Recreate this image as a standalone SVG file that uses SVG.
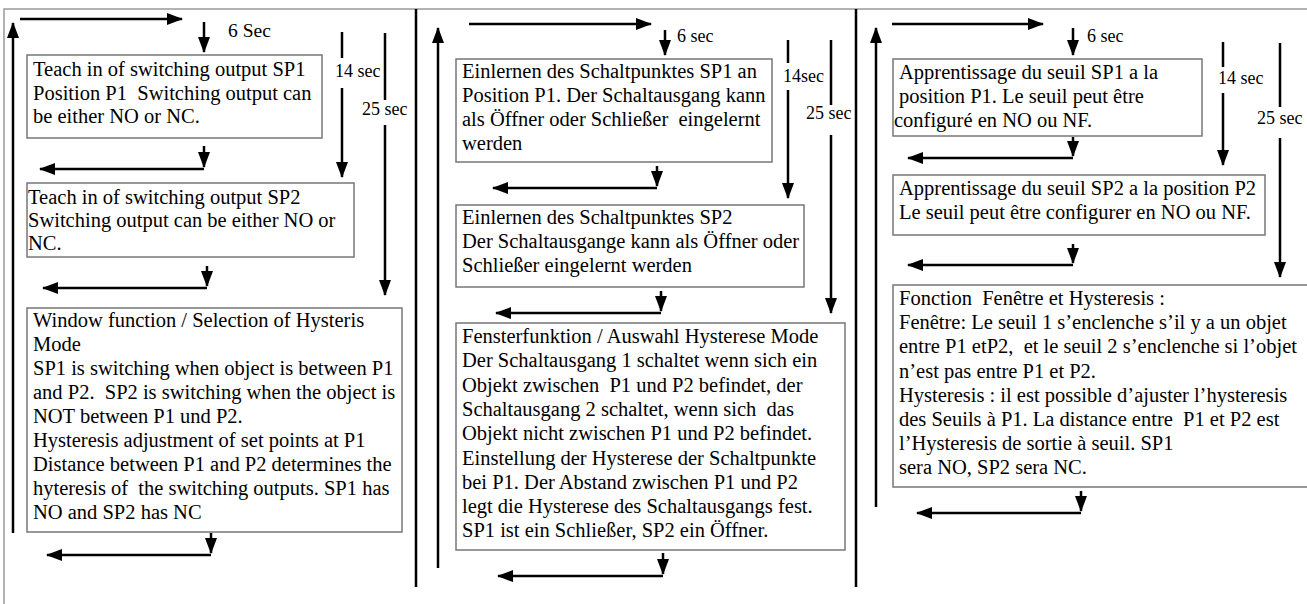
<svg xmlns="http://www.w3.org/2000/svg" width="1307" height="604" viewBox="0 0 1307 604">
<style>
text{font-family:"Liberation Serif","Times New Roman",serif;fill:#000;white-space:pre}
.t{font-size:20.5px}
.lb{font-size:18px}
.box{fill:#fff;stroke:#777;stroke-width:1.5}
.ln{fill:none;stroke:#000;stroke-width:2.5}
.ar{fill:none;stroke:#000;stroke-width:2.5;marker-end:url(#ah)}
.frame{fill:none;stroke:#999;stroke-width:1.5}
</style>
<defs>
<marker id="ah" viewBox="0 0 16 12" markerWidth="16" markerHeight="12" refX="15" refY="6" orient="auto" markerUnits="userSpaceOnUse">
<path d="M0,0 L16,6 L0,12 z" fill="#000"/>
</marker>
</defs>
<rect width="1307" height="604" fill="#fff"/>
<path class="frame" d="M4,604 V9 H1307"/>

<g id="connectors">
<!-- separators -->
<path class="ln" d="M416,9 V587"/>
<path class="ln" d="M856,9 V587"/>
<!-- left column -->
<path class="ar" d="M13,533 V23"/>
<path class="ar" d="M20,19 H182"/>
<path class="ar" d="M204,22 V52"/>
<path class="ln" d="M342,32 V58"/>
<path class="ar" d="M342,88 V177"/>
<path class="ln" d="M385,33 V100"/>
<path class="ar" d="M385,125 V295"/>
<path class="ar" d="M204,146 V167"/>
<path class="ar" d="M204,169 H40"/>
<path class="ar" d="M207,266 V286"/>
<path class="ar" d="M207,288 H43"/>
<path class="ar" d="M211,533 V553"/>
<path class="ar" d="M211,555 H47"/>
<!-- middle column -->
<path class="ar" d="M438,568 V28"/>
<path class="ar" d="M469,24 H651"/>
<path class="ar" d="M665,30 V55"/>
<path class="ln" d="M788,40 V63"/>
<path class="ar" d="M788,90 V198"/>
<path class="ln" d="M831,40 V105"/>
<path class="ar" d="M831,135 V313"/>
<path class="ar" d="M657,166 V186"/>
<path class="ar" d="M657,188 H493"/>
<path class="ar" d="M661,291 V311"/>
<path class="ar" d="M661,313 H496"/>
<path class="ar" d="M663,553 V574"/>
<path class="ar" d="M663,576 H498"/>
<!-- right column -->
<path class="ar" d="M876,507 V28"/>
<path class="ar" d="M892,24 H1043"/>
<path class="ar" d="M1073,28 V55"/>
<path class="ln" d="M1223,42 V67"/>
<path class="ar" d="M1223,93 V165"/>
<path class="ln" d="M1280,43 V107"/>
<path class="ar" d="M1280,138 V277"/>
<path class="ar" d="M1073,137 V156"/>
<path class="ar" d="M1073,158 H908"/>
<path class="ar" d="M1073,244 V263"/>
<path class="ar" d="M1073,265 H908"/>
<path class="ar" d="M1081,491 V511"/>
<path class="ar" d="M1081,513 H917"/>
</g>

<g id="labels">
<text class="t" x="228" y="37" style="font-size:19.5px">6 Sec</text>
<text class="lb" x="335" y="77">14 sec</text>
<text class="lb" x="362" y="115">25 sec</text>
<text class="lb" x="677" y="42">6 sec</text>
<text class="lb" x="783" y="82">14sec</text>
<text class="lb" x="806" y="119">25 sec</text>
<text class="lb" x="1087" y="42">6 sec</text>
<text class="lb" x="1218" y="84">14 sec</text>
<text class="lb" x="1257" y="124">25 sec</text>
</g>

<g id="en-sp1">
<rect class="box" x="27" y="55" width="295" height="83"/>
<text class="t" x="33" y="76">Teach in of switching output SP1</text>
<text class="t" x="33" y="100">Position P1  Switching output can</text>
<text class="t" x="33" y="123">be either NO or NC.</text>
</g>
<g id="en-sp2">
<rect class="box" x="27" y="183" width="327" height="74"/>
<text class="t" x="28" y="204">Teach in of switching output SP2</text>
<text class="t" x="28" y="227">Switching output can be either NO or</text>
<text class="t" x="28" y="250">NC.</text>
</g>
<g id="en-window">
<rect class="box" x="27" y="308" width="375" height="224"/>
<text class="t" x="33" y="327">Window function / Selection of Hysteris</text>
<text class="t" x="33" y="351">Mode</text>
<text class="t" x="33" y="375">SP1 is switching when object is between P1</text>
<text class="t" x="33" y="399">and P2.  SP2 is switching when the object is</text>
<text class="t" x="33" y="423">NOT between P1 und P2.</text>
<text class="t" x="33" y="447">Hysteresis adjustment of set points at P1</text>
<text class="t" x="33" y="471">Distance between P1 and P2 determines the</text>
<text class="t" x="33" y="495">hyteresis of  the switching outputs. SP1 has</text>
<text class="t" x="33" y="519">NO and SP2 has NC</text>
</g>

<g id="de-sp1">
<rect class="box" x="456" y="59" width="316" height="103"/>
<text class="t" x="462" y="78">Einlernen des Schaltpunktes SP1 an</text>
<text class="t" x="462" y="102">Position P1. Der Schaltausgang kann</text>
<text class="t" x="462" y="126">als Öffner oder Schließer  eingelernt</text>
<text class="t" x="462" y="150">werden</text>
</g>
<g id="de-sp2">
<rect class="box" x="456" y="205" width="348" height="82"/>
<text class="t" x="462" y="224">Einlernen des Schaltpunktes SP2</text>
<text class="t" x="462" y="248">Der Schaltausgange kann als Öffner oder</text>
<text class="t" x="462" y="272">Schließer eingelernt werden</text>
</g>
<g id="de-window">
<rect class="box" x="456" y="323" width="389" height="227"/>
<text class="t" x="462" y="343">Fensterfunktion / Auswahl Hysterese Mode</text>
<text class="t" x="462" y="367">Der Schaltausgang 1 schaltet wenn sich ein</text>
<text class="t" x="462" y="392">Objekt zwischen  P1 und P2 befindet, der</text>
<text class="t" x="462" y="416">Schaltausgang 2 schaltet, wenn sich  das</text>
<text class="t" x="462" y="440">Objekt nicht zwischen P1 und P2 befindet.</text>
<text class="t" x="462" y="465">Einstellung der Hysterese der Schaltpunkte</text>
<text class="t" x="462" y="489">bei P1. Der Abstand zwischen P1 und P2</text>
<text class="t" x="462" y="513">legt die Hysterese des Schaltausgangs fest.</text>
<text class="t" x="462" y="537">SP1 ist ein Schließer, SP2 ein Öffner.</text>
</g>

<g id="fr-sp1">
<rect class="box" x="893" y="59" width="309" height="77"/>
<text class="t" x="899" y="79">Apprentissage du seuil SP1 a la</text>
<text class="t" x="899" y="103">position P1. Le seuil peut être</text>
<text class="t" x="894" y="127">configuré en NO ou NF.</text>
</g>
<g id="fr-sp2">
<rect class="box" x="893" y="175" width="372" height="60"/>
<text class="t" x="899" y="195">Apprentissage du seuil SP2 a la position P2</text>
<text class="t" x="899" y="219">Le seuil peut être configurer en NO ou NF.</text>
</g>
<g id="fr-window">
<rect class="box" x="893" y="285" width="430" height="202"/>
<text class="t" x="899" y="305">Fonction  Fenêtre et Hysteresis :</text>
<text class="t" x="899" y="329">Fenêtre: Le seuil 1 s’enclenche s’il y a un objet</text>
<text class="t" x="899" y="353">entre P1 etP2,  et le seuil 2 s’enclenche si l’objet</text>
<text class="t" x="899" y="378">n’est pas entre P1 et P2.</text>
<text class="t" x="899" y="402">Hysteresis : il est possible d’ajuster l’hysteresis</text>
<text class="t" x="899" y="426">des Seuils à P1. La distance entre  P1 et P2 est</text>
<text class="t" x="899" y="450">l’Hysteresis de sortie à seuil. SP1</text>
<text class="t" x="899" y="474">sera NO, SP2 sera NC.</text>
</g>
</svg>
